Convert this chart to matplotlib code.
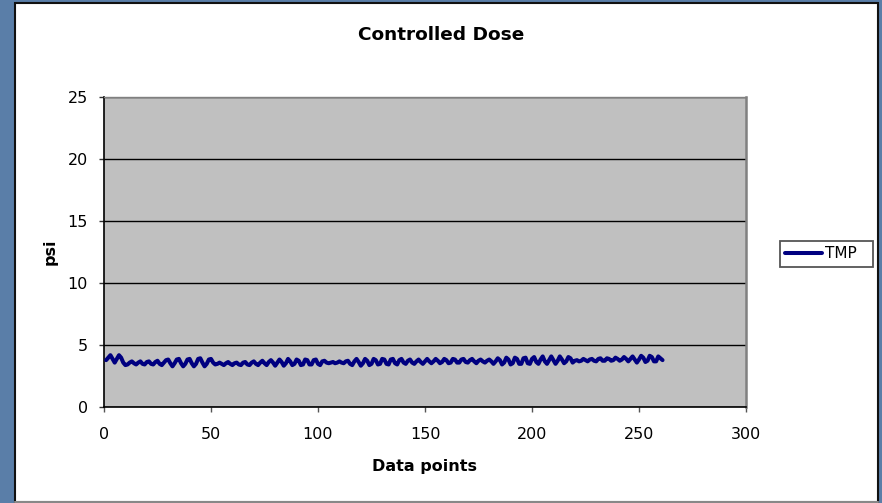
import numpy as np
import matplotlib
matplotlib.use("Agg")
import matplotlib.pyplot as plt
from matplotlib.patches import Rectangle

plt.rcParams['font.family'] = ['DejaVu Sans']

title = "Controlled Dose"
x_label = "Data points"
y_label = "psi"
series_name = "TMP"
x_ticks = [0, 50, 100, 150, 200, 250, 300]
y_ticks = [0, 5, 10, 15, 20, 25]

seg_a = [3.8, 4.0, 4.2, 3.9, 3.6, 3.9, 4.2, 4.0, 3.6, 3.4, 3.45]
seg_b = [3.6, 3.7, 3.55, 3.45, 3.6, 3.7, 3.5, 3.45, 3.65, 3.7, 3.5, 3.45, 3.65, 3.75, 3.5, 3.4, 3.6, 3.8]
seg_c = [3.85, 3.55, 3.3, 3.55, 3.85, 3.9, 3.55, 3.3, 3.5, 3.85, 3.9, 3.55, 3.3, 3.5, 3.9, 3.95, 3.6, 3.3, 3.5, 3.85, 3.9, 3.6]
seg_d = [3.45, 3.5, 3.6, 3.5, 3.4, 3.55, 3.65, 3.5, 3.4, 3.55, 3.6, 3.45, 3.4, 3.6, 3.65, 3.45, 3.4, 3.6, 3.7, 3.5, 3.4, 3.6]
seg_e = [3.75, 3.55, 3.4, 3.65, 3.8, 3.6, 3.35, 3.6, 3.85, 3.65, 3.35, 3.55, 3.9, 3.7, 3.4, 3.5, 3.85, 3.75, 3.4, 3.45,
         3.85, 3.8, 3.45, 3.45, 3.8, 3.85, 3.5, 3.4, 3.7, 3.75]
seg_f = [3.6, 3.55, 3.6, 3.65, 3.55, 3.6, 3.7, 3.6, 3.55, 3.7, 3.75]
seg_g = [3.5, 3.4, 3.7, 3.9, 3.65, 3.35, 3.55, 3.9, 3.75, 3.4, 3.5, 3.9, 3.8, 3.45, 3.5, 3.9, 3.85, 3.5, 3.45, 3.85,
         3.9, 3.55, 3.45]
seg_h = [3.8, 3.9, 3.6, 3.5, 3.75, 3.85, 3.6, 3.5, 3.7, 3.85, 3.65, 3.5, 3.7, 3.9, 3.7, 3.55, 3.7, 3.9, 3.75, 3.55,
         3.65, 3.9, 3.8, 3.55, 3.6, 3.9, 3.85, 3.6, 3.6, 3.85, 3.9, 3.65, 3.6, 3.8, 3.9, 3.7, 3.55, 3.75, 3.85, 3.7,
         3.6, 3.75, 3.85, 3.7]
seg_i = [3.5, 3.7, 3.95, 3.8, 3.45, 3.6, 4.0, 3.85, 3.45, 3.55, 4.0, 3.9, 3.5, 3.5, 3.95, 4.0, 3.55, 3.5, 3.9, 4.05,
         3.65, 3.5, 3.85, 4.1, 3.7, 3.5, 3.8, 4.1, 3.8, 3.5, 3.75, 4.1, 3.85, 3.55, 3.7, 4.05, 3.95, 3.6]
seg_j = [3.75, 3.8, 3.7, 3.75, 3.9, 3.8, 3.7, 3.85, 3.9, 3.75, 3.7, 3.9, 3.95, 3.75, 3.75, 3.95, 3.9, 3.75, 3.8, 4.0,
         3.9, 3.75, 3.85, 4.05, 3.9, 3.7, 3.9, 4.1]
seg_k = [3.85, 3.6, 3.85, 4.15, 4.0, 3.65, 3.75, 4.15, 4.05, 3.7, 3.7, 4.1, 3.95, 3.8]

tmp_values = seg_a + seg_b + seg_c + seg_d + seg_e + seg_f + seg_g + seg_h + seg_i + seg_j + seg_k
x_values = np.arange(1, len(tmp_values) + 1)

W, H = 882, 503
fig = plt.figure(figsize=(W / 100, H / 100), dpi=100)
fig.patch.set_facecolor('#5a7ea8')

# white chart area and legend box (behind the axes), pixel coordinates
bg_ax = fig.add_axes([0, 0, 1, 1], zorder=-5)
bg_ax.set_axis_off()
bg_ax.set_xlim(0, W)
bg_ax.set_ylim(H, 0)
bg_ax.add_patch(Rectangle((15, 3), 863, 499, facecolor='white', edgecolor='#111111', linewidth=1.5))
bg_ax.plot([15, 878], [502, 502], color='#a0a0a0', linewidth=1.2)
bg_ax.add_patch(Rectangle((780, 241), 93, 26, facecolor='white', edgecolor='#555555', linewidth=1.3))

ax = fig.add_axes([104 / W, 1 - 407.3 / H, 642 / W, 310.3 / H], zorder=1)
ax.set_facecolor('#c0c0c0')
ax.plot(x_values, tmp_values, color='#000080', linewidth=2.9, solid_capstyle='round',
        solid_joinstyle='round', label=series_name, zorder=3)

ax.set_xlim(0, 300)
ax.set_ylim(0, 25)
ax.set_xticks(x_ticks)
ax.set_yticks(y_ticks)
ax.set_xticklabels([str(t) for t in x_ticks])
ax.set_yticklabels([str(t) for t in y_ticks])
ax.yaxis.grid(True, color='black', linewidth=1.0)
ax.set_axisbelow(True)

for s in ['left', 'bottom']:
    ax.spines[s].set_color('black')
    ax.spines[s].set_linewidth(1.2)
ax.spines['top'].set_color('#808080')
ax.spines['top'].set_linewidth(1.0)
ax.spines['right'].set_color('#808080')
ax.spines['right'].set_linewidth(1.8)

ax.tick_params(axis='x', direction='out', length=3.6, width=1, color='#555555', pad=10.5,
               labelsize=11.5, labelcolor='black')
ax.tick_params(axis='y', direction='out', length=3.6, width=1, color='#333333', pad=8,
               labelsize=11.5, labelcolor='black')

ax.set_xlabel(x_label, fontsize=11.5, fontweight='bold', va='center')
ax.xaxis.set_label_coords(0.5, (407.3 - 467) / 310.3)
ax.set_ylabel(y_label, fontsize=11.5, fontweight='bold', va='center')
ax.yaxis.set_label_coords((50 - 104) / 642, (407.3 - 252) / 310.3)

fig.text(441 / W, 1 - 35 / H, title, ha='center', va='center', fontsize=13.3, fontweight='bold')

leg = fig.legend(loc='center left', bbox_to_anchor=(785 / W, 1 - 254 / H), frameon=False,
                 fontsize=11, handlelength=2.4, handletextpad=0.25, borderpad=0, borderaxespad=0)
leg.set_zorder(5)

fig.savefig('out.png', dpi=100, facecolor=fig.get_facecolor())
